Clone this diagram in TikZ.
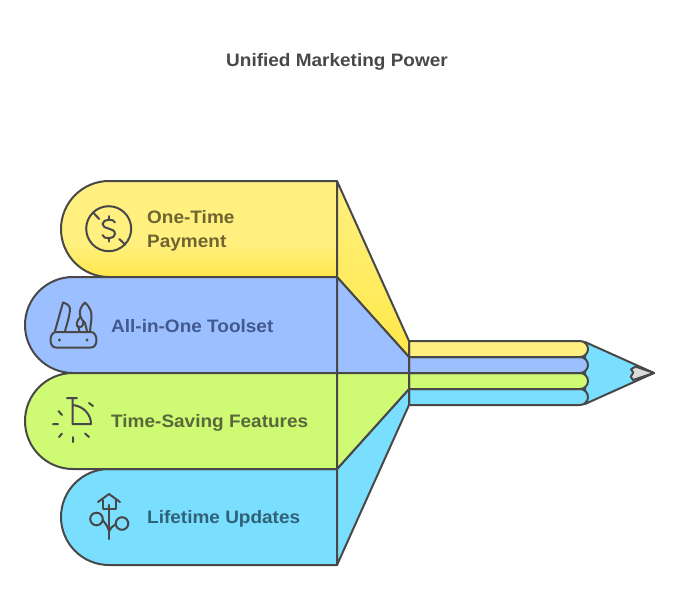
\documentclass[tikz,border=0pt]{standalone}
\usepackage{fontspec}
\setmainfont[FakeStretch=1.055]{Liberation Sans}
\definecolor{ln}{HTML}{484848}
\definecolor{yl}{HTML}{FFF07F}
\definecolor{yd}{HTML}{FFE84A}
\definecolor{bl}{HTML}{9CC0FF}
\definecolor{gr}{HTML}{CFFA73}
\definecolor{cy}{HTML}{7ADFFF}
\definecolor{ty}{HTML}{6E6530}
\definecolor{tb}{HTML}{41598F}
\definecolor{tg}{HTML}{59683A}
\definecolor{tc}{HTML}{30627A}
\definecolor{tip}{HTML}{DADADA}
\pgfdeclareverticalshading{pillyellow}{100bp}{color(0bp)=(yd); color(25bp)=(yd); color(42bp)=(yl); color(100bp)=(yl)}
\tikzset{
  shp/.style={draw=ln,line width=2pt,line join=round},
  ico/.style={draw=ln,line width=2pt,line cap=round,line join=round},
  lbl/.style={font=\fontsize{18}{24}\selectfont\bfseries,anchor=west,align=left,inner sep=0pt},
}
\begin{document}
\begin{tikzpicture}[x=1pt,y=-1pt]
\useasboundingbox (0,0) rectangle (680,614);
% pencil body
\path[shp,fill=cy] (585,342) -- (654,373) -- (585,404) -- cycle;
\path[shp,fill=tip] (635.5,366.5) -- (654,373) -- (633,380) -- (630.7,376.7) -- (633.3,372.7) -- (631,369.3) -- cycle;
% bars
\path[shp,fill=cy] (409,389) -- (580,389) arc[start angle=-90,end angle=90,radius=8] -- (409,405) -- cycle;
\path[shp,fill=gr] (409,373) -- (580,373) arc[start angle=-90,end angle=90,radius=8] -- (409,389) -- cycle;
\path[shp,fill=bl] (409,357) -- (580,357) arc[start angle=-90,end angle=90,radius=8] -- (409,373) -- cycle;
\path[shp,fill=yl] (409,341) -- (580,341) arc[start angle=-90,end angle=90,radius=8] -- (409,357) -- cycle;
% pills
\path[shp,shade,shading=pillyellow] (337,181) -- (109,181) arc[start angle=-90,end angle=-270,radius=48] -- (337,277) -- cycle;
\path[shp,fill=bl] (337,277) -- (73,277) arc[start angle=-90,end angle=-270,radius=48] -- (337,373) -- cycle;
\path[shp,fill=cy] (337,469) -- (109,469) arc[start angle=-90,end angle=-270,radius=48] -- (337,565) -- cycle;
\path[shp,fill=gr] (337,373) -- (73,373) arc[start angle=-90,end angle=-270,radius=48] -- (337,469) -- cycle;
% funnels
\path[shp,top color=yl,bottom color=yd] (337,181) -- (409,341) -- (409,357) -- (337,277) -- cycle;
\path[shp,fill=cy] (337,469) -- (409,389) -- (409,405) -- (337,565) -- cycle;
\path[shp,fill=bl] (337,277) -- (409,357) -- (409,373) -- (337,373) -- cycle;
\path[shp,fill=gr] (337,373) -- (409,373) -- (409,389) -- (337,469) -- cycle;
% icon: no dollar
\draw[ico] (108.7,228.7) circle[radius=22.5];
\draw[ico] (93.5,213) -- (99.3,219) (119.3,239) -- (125.3,244.7);
\draw[ico] (115,222.5) .. controls (114,218.5) and (103,218.5) .. (102.5,224) .. controls (102.5,230) and (115,227) .. (115,234) .. controls (115,239.5) and (103,239.5) .. (102.5,235);
\draw[ico] (108.7,216) -- (108.7,220) (108.7,238) -- (108.7,241.5);
% icon: multi-tool
\draw[ico] (56,332) -- (91,332) .. controls (94.5,332) and (96.5,336) .. (96.5,340) .. controls (96.5,345) and (94,347.5) .. (91,347.5) -- (56,347.5) .. controls (53,347.5) and (50.5,345) .. (50.5,340) .. controls (50.5,336) and (52.5,332) .. (56,332) -- cycle;
\draw[ico] (55,331) -- (63,302.5) .. controls (67,303.5) and (70.5,306) .. (70,310) .. controls (69.5,316) and (67,324) .. (65,331);
\draw[ico] (79.5,331) -- (78,326) (85,302.5) .. controls (81,306) and (79,311) .. (80,315) .. controls (81,319) and (83,321) .. (85,323) -- (87,331);
\draw[ico] (85,302.5) .. controls (90,307) and (92,312) .. (91.5,318) -- (90,331);
\draw[ico] (80.5,317) .. controls (77,320) and (75,326) .. (78.5,327) .. controls (82,328) and (84,324) .. (83,322);
\fill[ln] (59.5,340) circle[radius=1.6] (87,340) circle[radius=1.6];
% icon: stopwatch
\draw[ico] (67,398) -- (77,398) (72.5,398) -- (72.5,424) -- (91,424) .. controls (91,415) and (84,406) .. (72.5,405);
\draw[ico] (93,406) -- (89,403) (58.5,411) -- (62,415) (53,424) -- (58,424) (59,437) -- (62,433.5) (73,437) -- (73,442) (85,433.5) -- (89,437);
% icon: plant and house
\draw[ico] (98,502) -- (109,494) -- (120,502);
\draw[ico] (102.5,500) -- (102.5,509) -- (115.5,509) -- (115.5,500);
\draw[ico,line width=2.4pt] (109,505) -- (109,539);
\draw[ico] (109,531) .. controls (107,525) and (105,523) .. (103,520.5);
\draw[ico] (109,532) .. controls (110,528) and (113,526) .. (116,524);
\draw[ico] (96.5,519) circle[radius=6.3] (122,523.5) circle[radius=6.3];
% labels
\node[font=\fontsize{18}{24}\selectfont\bfseries,text=ln,inner sep=0pt] (title) at (337,61.5) {Unified Marketing Power};
\node[lbl,text=ty] (a) at (147,230.5) {One-Time\\Payment};
\node[lbl,text=tb] (b) at (111,326.5) {All-in-One Toolset};
\node[lbl,text=tg] (c) at (111,422.5) {Time-Saving Features};
\node[lbl,text=tc] (d) at (147,518.5) {Lifetime Updates};
\end{tikzpicture}
\end{document}
